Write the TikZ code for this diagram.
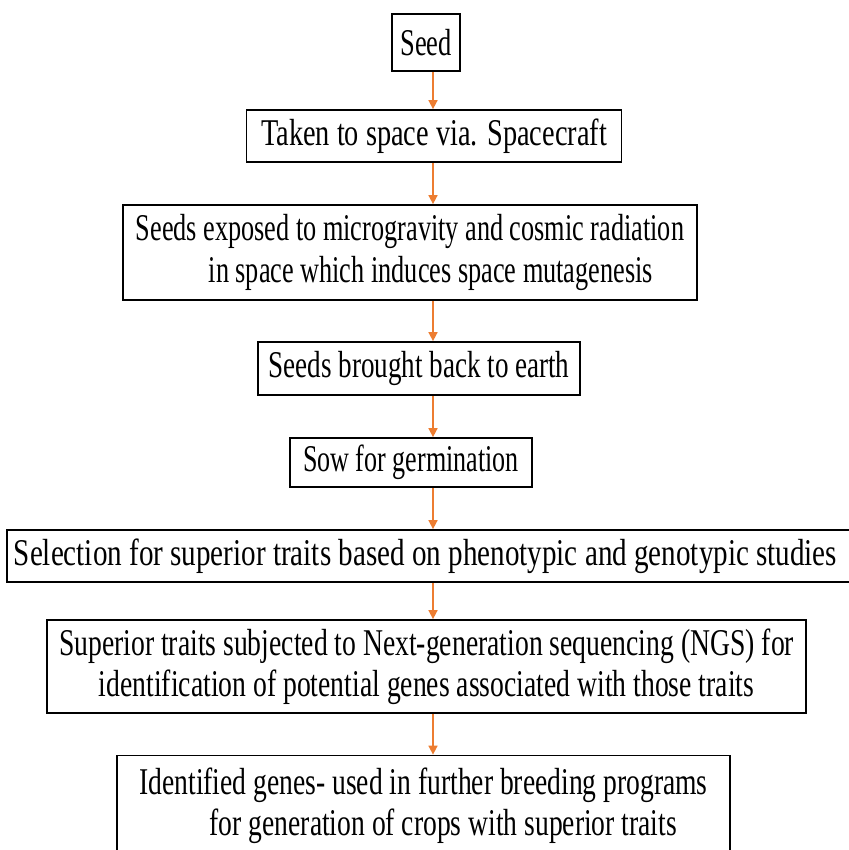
\documentclass[tikz,border=0pt]{standalone}
\usepackage{fontspec}
\setmainfont{Liberation Serif}
\usepackage{xcolor}
\usetikzlibrary{arrows.meta}
\definecolor{og}{RGB}{237, 125, 49}

\begin{document}
\begin{tikzpicture}[x=0.2mm, y=-0.2mm,
        box/.style={draw, line width=1pt, inner sep=0pt, align=center,
            font=\fontsize{21.5}{23.5}\selectfont\addfontfeatures{FakeStretch=#1}},
        box/.default=0.70,
        arr/.style={og, line width=0.9pt, -{Triangle[length=1.8mm, width=1.8mm]}}]
        \useasboundingbox (0,0) rectangle (848,850);
        \node[box, minimum width=13.6mm, minimum height=11.4mm] (seed) at (426,42.5) {Seed};
        \node[box=0.75, minimum width=75mm, minimum height=10.4mm] (taken) at (434,136) {Taken to space via. Spacecraft};
        \node[box=0.695, minimum width=114.8mm, minimum height=19mm] (expo) at (410,252.5) {Seeds exposed to microgravity and cosmic radiation\\ \hspace*{1.1em}in space which induces space mutagenesis};
        \node[box=0.717, minimum width=64.4mm, minimum height=10.6mm] (back) at (419,368.5) {Seeds brought back to earth};
        \node[box=0.69, minimum width=48.4mm, minimum height=9.8mm] (sow) at (411,462.5) {Sow for germination};
        \node[box=0.77, minimum width=170.6mm, minimum height=10.4mm] (sel) at (433.5,556) {Selection for superior traits based on phenotypic and genotypic studies\hspace*{3.2mm}};
        \node[box=0.732, minimum width=151.8mm, minimum height=18.6mm] (ngs) at (426.5,666.5) {Superior traits subjected to Next-generation sequencing (NGS) for\\ identification of potential genes associated with those traits};
        \node[box=0.73, minimum width=122.6mm, minimum height=20.2mm] (gen) at (423.5,806) {Identified genes- used in further breeding programs\\ \hspace*{1.05em}for generation of crops with superior traits};
        % arrows all run down one line
        \coordinate (ax) at (433,0);
        \draw[arr] (seed.south -| ax) -- (taken.north -| ax);
        \draw[arr] (taken.south -| ax) -- (expo.north -| ax);
        \draw[arr] (expo.south -| ax) -- (back.north -| ax);
        \draw[arr] (back.south -| ax) -- (sow.north -| ax);
        \draw[arr] (sow.south -| ax) -- (sel.north -| ax);
        \draw[arr] (sel.south -| ax) -- (ngs.north -| ax);
        \draw[arr] (ngs.south -| ax) -- (gen.north -| ax);
\end{tikzpicture}
\end{document}
